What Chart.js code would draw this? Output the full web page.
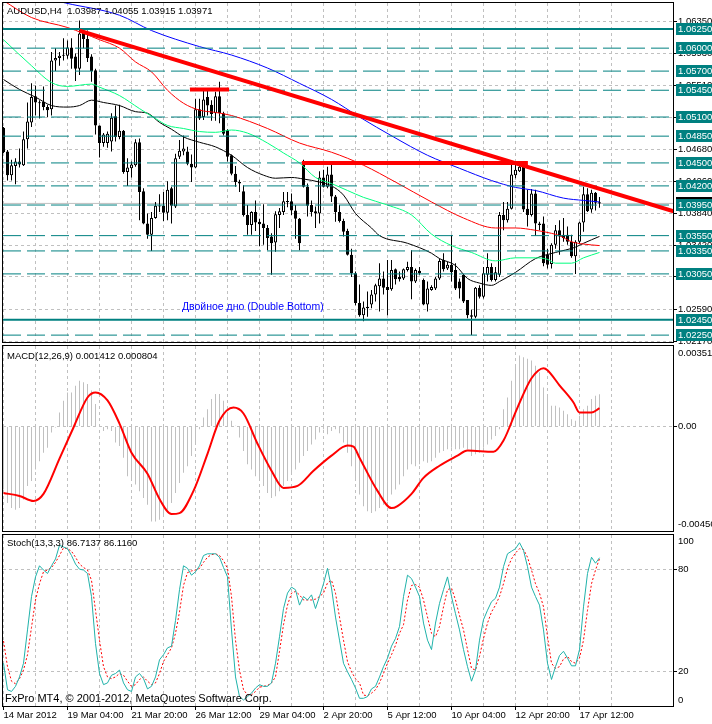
<!DOCTYPE html>
<html>
<head>
<meta charset="utf-8">
<title>AUDUSD,H4</title>
<script src="https://cdn.jsdelivr.net/npm/chart.js@4.4.1/dist/chart.umd.min.js"></script>
<style>
    html, body { margin: 0; padding: 0; background: #fff; }
    #wrap { position: relative; width: 712px; height: 724px; overflow: hidden; background: #fff; }
    #wrap canvas { position: absolute; left: 0; }
    #price-chart { top: 0; }
    #macd-chart { top: 344px; }
    #stoch-chart { top: 532px; }
</style>
</head>
<body>
<div id="wrap">
    <canvas id="price-chart" width="712" height="344"></canvas>
    <canvas id="macd-chart" width="712" height="188"></canvas>
    <canvas id="stoch-chart" width="712" height="192"></canvas>
</div>
<script>
// --- H4 candles, bar 0 = 14 Mar 2012 ---
const opens = [
    1.0496, 1.0465, 1.0434, 1.0446, 1.0452, 1.0447, 1.0481, 1.0503, 1.0537, 1.0529,
    1.0530, 1.0523, 1.0520, 1.0584, 1.0587, 1.0590, 1.0590, 1.0601, 1.0589, 1.0573,
    1.0621, 1.0612, 1.0589, 1.0571, 1.0499, 1.0476, 1.0476, 1.0478, 1.0511, 1.0484,
    1.0492, 1.0438, 1.0443, 1.0447, 1.0477, 1.0413, 1.0371, 1.0356, 1.0378, 1.0394,
    1.0394, 1.0385, 1.0417, 1.0393, 1.0458, 1.0465, 1.0465, 1.0449, 1.0444, 1.0520,
    1.0510, 1.0536, 1.0526, 1.0515, 1.0537, 1.0515, 1.0493, 1.0460, 1.0436, 1.0425,
    1.0413, 1.0382, 1.0369, 1.0386, 1.0373, 1.0371, 1.0365, 1.0354, 1.0346, 1.0382,
    1.0386, 1.0400, 1.0400, 1.0388, 1.0377, 1.0452, 1.0419, 1.0395, 1.0387, 1.0384,
    1.0431, 1.0419, 1.0435, 1.0406, 1.0386, 1.0374, 1.0361, 1.0330, 1.0306, 1.0267,
    1.0251, 1.0260, 1.0265, 1.0278, 1.0289, 1.0299, 1.0288, 1.0285, 1.0311, 1.0301,
    1.0299, 1.0310, 1.0314, 1.0295, 1.0309, 1.0297, 1.0265, 1.0284, 1.0286, 1.0299,
    1.0323, 1.0312, 1.0317, 1.0310, 1.0295, 1.0304, 1.0271, 1.0251, 1.0249, 1.0287,
    1.0275, 1.0304, 1.0314, 1.0297, 1.0304, 1.0382, 1.0375, 1.0390, 1.0434, 1.0439,
    1.0449, 1.0390, 1.0382, 1.0410, 1.0371, 1.0371, 1.0330, 1.0318, 1.0343, 1.0362,
    1.0356, 1.0356, 1.0347, 1.0328, 1.0347, 1.0372, 1.0409, 1.0389, 1.0411, 1.03987
];
const highs = [
    1.0497, 1.0467, 1.0454, 1.0456, 1.0469, 1.0491, 1.0529, 1.0554, 1.0551, 1.0532,
    1.0550, 1.0526, 1.0595, 1.0600, 1.0595, 1.0613, 1.0610, 1.0613, 1.0593, 1.0636,
    1.0626, 1.0623, 1.0592, 1.0573, 1.0499, 1.0489, 1.0491, 1.0515, 1.0525, 1.0526,
    1.0493, 1.0456, 1.0452, 1.0481, 1.0482, 1.0417, 1.0384, 1.0386, 1.0399, 1.0409,
    1.0412, 1.0426, 1.0419, 1.0462, 1.0480, 1.0486, 1.0471, 1.0461, 1.0534, 1.0534,
    1.0544, 1.0545, 1.0532, 1.0543, 1.0556, 1.0517, 1.0494, 1.0461, 1.0446, 1.0428,
    1.0421, 1.0395, 1.0387, 1.0401, 1.0377, 1.0396, 1.0369, 1.0358, 1.0387, 1.0391,
    1.0412, 1.0412, 1.0410, 1.0395, 1.0378, 1.0454, 1.0423, 1.0401, 1.0393, 1.0439,
    1.0441, 1.0445, 1.0452, 1.0408, 1.0395, 1.0377, 1.0364, 1.0338, 1.0308, 1.0291,
    1.0269, 1.0282, 1.0284, 1.0292, 1.0319, 1.0308, 1.0323, 1.0323, 1.0312, 1.0308,
    1.0312, 1.0321, 1.0336, 1.0312, 1.0314, 1.0299, 1.0295, 1.0290, 1.0301, 1.0325,
    1.0332, 1.0321, 1.0356, 1.0319, 1.0299, 1.0304, 1.0271, 1.0258, 1.0288, 1.0290,
    1.0314, 1.0332, 1.0319, 1.0314, 1.0386, 1.0399, 1.0399, 1.0449, 1.0449, 1.0449,
    1.0452, 1.0415, 1.0416, 1.0415, 1.0373, 1.0380, 1.0338, 1.0345, 1.0369, 1.0375,
    1.0378, 1.0367, 1.0356, 1.0349, 1.0373, 1.0419, 1.0417, 1.0415, 1.0412, 1.04055
];
const lows = [
    1.0463, 1.0427, 1.0427, 1.0422, 1.0444, 1.0446, 1.0469, 1.0497, 1.0512, 1.0508,
    1.0519, 1.0510, 1.0512, 1.0570, 1.0577, 1.0584, 1.0586, 1.0573, 1.0557, 1.0565,
    1.0600, 1.0582, 1.0556, 1.0487, 1.0457, 1.0471, 1.0470, 1.0465, 1.0478, 1.0481,
    1.0436, 1.0420, 1.0431, 1.0445, 1.0375, 1.0370, 1.0351, 1.0335, 1.0377, 1.0386,
    1.0374, 1.0375, 1.0371, 1.0391, 1.0455, 1.0460, 1.0447, 1.0425, 1.0443, 1.0506,
    1.0506, 1.0512, 1.0505, 1.0505, 1.0502, 1.0486, 1.0452, 1.0434, 1.0419, 1.0412,
    1.0380, 1.0356, 1.0356, 1.0361, 1.0341, 1.0343, 1.0336, 1.0304, 1.0334, 1.0365,
    1.0382, 1.0392, 1.0382, 1.0351, 1.0336, 1.0418, 1.0380, 1.0380, 1.0365, 1.0371,
    1.0418, 1.0417, 1.0399, 1.0373, 1.0372, 1.0354, 1.0329, 1.0301, 1.0264, 1.0249,
    1.0243, 1.0249, 1.0260, 1.0269, 1.0256, 1.0278, 1.0251, 1.0283, 1.0291, 1.0295,
    1.0297, 1.0308, 1.0272, 1.0293, 1.0304, 1.0264, 1.0256, 1.0283, 1.0284, 1.0297,
    1.0308, 1.0310, 1.0295, 1.0284, 1.0273, 1.0267, 1.0247, 1.0225, 1.0247, 1.0273,
    1.0273, 1.0295, 1.0295, 1.0295, 1.0301, 1.0362, 1.0372, 1.0389, 1.0430, 1.0438,
    1.0386, 1.0367, 1.0380, 1.0355, 1.0362, 1.0315, 1.0312, 1.0312, 1.0338, 1.0330,
    1.0347, 1.0343, 1.0326, 1.0305, 1.0345, 1.0360, 1.0386, 1.0385, 1.0388, 1.03915
];
const closes = [
    1.0464, 1.0434, 1.0447, 1.0452, 1.0448, 1.0481, 1.0504, 1.0536, 1.0529, 1.0528,
    1.0523, 1.0519, 1.0584, 1.0587, 1.0590, 1.0591, 1.0601, 1.0586, 1.0573, 1.0619,
    1.0612, 1.0587, 1.0570, 1.0499, 1.0476, 1.0487, 1.0488, 1.0509, 1.0484, 1.0492,
    1.0438, 1.0444, 1.0448, 1.0477, 1.0412, 1.0371, 1.0356, 1.0378, 1.0394, 1.0393,
    1.0385, 1.0415, 1.0394, 1.0456, 1.0466, 1.0469, 1.0449, 1.0444, 1.0520, 1.0508,
    1.0533, 1.0525, 1.0514, 1.0537, 1.0515, 1.0488, 1.0458, 1.0436, 1.0425, 1.0423,
    1.0382, 1.0369, 1.0386, 1.0372, 1.0370, 1.0365, 1.0352, 1.0345, 1.0383, 1.0387,
    1.0400, 1.0399, 1.0388, 1.0377, 1.0345, 1.0419, 1.0394, 1.0386, 1.0384, 1.0431,
    1.0419, 1.0435, 1.0406, 1.0386, 1.0374, 1.0360, 1.0330, 1.0306, 1.0267, 1.0251,
    1.0261, 1.0262, 1.0278, 1.0290, 1.0299, 1.0287, 1.0284, 1.0310, 1.0298, 1.0298,
    1.0311, 1.0314, 1.0295, 1.0310, 1.0306, 1.0265, 1.0286, 1.0288, 1.0299, 1.0322,
    1.0311, 1.0317, 1.0307, 1.0286, 1.0286, 1.0269, 1.0251, 1.0249, 1.0287, 1.0275,
    1.0306, 1.0314, 1.0297, 1.0307, 1.0382, 1.0375, 1.0390, 1.0435, 1.0441, 1.0445,
    1.0389, 1.0382, 1.0410, 1.0371, 1.0369, 1.0319, 1.0317, 1.0343, 1.0362, 1.0354,
    1.0352, 1.0347, 1.0328, 1.0347, 1.0372, 1.0409, 1.0387, 1.0411, 1.0398, 1.03971
];

// moving averages at sample bars
const maBlueBars = [0, 10, 15.5, 29, 37, 49, 57, 66, 74, 82, 89, 97.5, 106, 114, 122, 128, 133, 140, 145, 149];
const maBlueVals = [1.0678, 1.0666, 1.0659, 1.0643, 1.0623, 1.0602, 1.0591, 1.0574, 1.0554, 1.0533, 1.0510, 1.0484, 1.0460, 1.0443, 1.0427, 1.0418, 1.0414, 1.0404, 1.0401, 1.0399];
const maRedBars = [0, 7, 16, 24, 29, 33, 37, 41, 45, 49, 53, 57, 66, 74, 82, 90, 98, 107, 115, 123, 128, 133, 137, 139, 142, 145, 149];
const maRedVals = [1.0662, 1.0640, 1.0627, 1.0611, 1.0600, 1.0582, 1.0569, 1.0545, 1.0528, 1.0519, 1.0516, 1.0512, 1.0495, 1.0476, 1.0464, 1.0447, 1.0425, 1.0399, 1.0378, 1.0365, 1.0365, 1.0362, 1.0358, 1.0355, 1.0347, 1.0344, 1.0342];
const maGreenBars = [0, 7, 12, 16, 22, 24, 29, 34, 38, 41, 45, 49, 53, 57, 61, 66, 70, 74, 78, 82, 86, 90, 96, 102, 107, 112, 117, 123, 128, 133, 136, 138, 142, 145, 149];
const maGreenVals = [1.0611, 1.0577, 1.0555, 1.0550, 1.0553, 1.0549, 1.0538, 1.0521, 1.0508, 1.0499, 1.0495, 1.0491, 1.0490, 1.0493, 1.0489, 1.0476, 1.0463, 1.0450, 1.0431, 1.0423, 1.0414, 1.0405, 1.0395, 1.0382, 1.0357, 1.0342, 1.0333, 1.0322, 1.0326, 1.0326, 1.0324, 1.0319, 1.0319, 1.0326, 1.0333];
const maBlackBars = [0, 4, 8, 12, 16, 19, 22, 25, 29, 33, 36, 39, 42, 45, 49, 53, 57, 61, 65, 68, 72, 75, 79, 82, 85, 88, 92, 94, 101, 107, 109, 113, 116, 119, 122, 124, 128, 133, 138, 143, 145, 149];
const maBlackVals = [1.0559, 1.0546, 1.0536, 1.0525, 1.0523, 1.0525, 1.0532, 1.0529, 1.0525, 1.0517, 1.0515, 1.0503, 1.0494, 1.0484, 1.0477, 1.0471, 1.0460, 1.0444, 1.0434, 1.0430, 1.0431, 1.0429, 1.0425, 1.0420, 1.0408, 1.0384, 1.0365, 1.0355, 1.0345, 1.0332, 1.0325, 1.0316, 1.0299, 1.0293, 1.0290, 1.0295, 1.0307, 1.0325, 1.0333, 1.0340, 1.0345, 1.0354];

// drawn objects
const levelPrices = [1.0625, 1.0600, 1.0570, 1.0545, 1.0510, 1.0485, 1.0450, 1.0420, 1.0395, 1.0355, 1.0335, 1.0305, 1.0245, 1.0225];
const solidLevels = [1.0625, 1.0245];
const bidPrice = 1.03971;
const trendBars = [19, 168];
const trendVals = [1.0623, 1.0386];
const topSegBars = [46.6, 56.4];
const topSegVals = [1.0546, 1.0546];
const midSegBars = [74.6, 131.1];
const midSegVals = [1.0450, 1.0450];
const noteText = 'Двойное дно (Double Bottom)';
const noteBar = 44.6;
const notePrice = 1.02617;

// axis ticks
const priceTicks = [1.0635, 1.0593, 1.0551, 1.0510, 1.0468, 1.0426, 1.0384, 1.0342, 1.0301, 1.0259, 1.0217];
const macdTicks = [0.003517, 0, -0.00456];
const macdTickLabels = ['0.003517', '0.00', '-0.004560'];
const stochTicks = [100, 80, 20, 0];
const xTickLabels = ['14 Mar 2012', '19 Mar 04:00', '21 Mar 20:00', '26 Mar 12:00', '29 Mar 04:00',
    '2 Apr 20:00', '5 Apr 12:00', '10 Apr 04:00', '12 Apr 20:00', '17 Apr 12:00'];
const gridBars = [0, 8, 16, 24, 32, 40, 48, 56, 64, 72, 80, 88, 96, 104, 112, 120, 128, 136, 144, 152, 160];

// --- MACD(12,26,9) ---
const macdMain = [
    -0.00275, -0.00334, -0.00356, -0.00363, -0.00356, -0.00319, -0.00260, -0.00238, -0.00187, -0.00151,
    -0.00114, -0.00092, -0.00026, -0.00004, 0.00061, 0.00113, 0.00149, 0.00149, 0.00178, 0.00200,
    0.00193, 0.00186, 0.00157, 0.00098, 0.00003, -0.00019, -0.00012, -0.00019, -0.00070, -0.00085,
    -0.00136, -0.00217, -0.00238, -0.00253, -0.00282, -0.00312, -0.00341, -0.00414, -0.00414, -0.00407,
    -0.00392, -0.00363, -0.00334, -0.00290, -0.00246, -0.00202, -0.00173, -0.00129, -0.00070, -0.00012,
    0.00040, 0.00076, 0.00120, 0.00142, 0.00142, 0.00113, 0.00054, 0.00025, 0.00003, -0.00048,
    -0.00107, -0.00165, -0.00187, -0.00217, -0.00238, -0.00260, -0.00290, -0.00312, -0.00304, -0.00282,
    -0.00260, -0.00238, -0.00209, -0.00187, -0.00158, -0.00129, -0.00107, -0.00078, -0.00056, -0.00026,
    -0.00012, -0.00034, -0.00019, -0.00012, -0.00029, -0.00070, -0.00114, -0.00173, -0.00231, -0.00297,
    -0.00348, -0.00370, -0.00377, -0.00370, -0.00356, -0.00341, -0.00326, -0.00297, -0.00275, -0.00253,
    -0.00217, -0.00187, -0.00165, -0.00173, -0.00165, -0.00151, -0.00158, -0.00151, -0.00136, -0.00114,
    -0.00107, -0.00099, -0.00092, -0.00099, -0.00099, -0.00092, -0.00099, -0.00129, -0.00121, -0.00114,
    -0.00092, -0.00078, -0.00056, -0.00041, -0.00012, 0.00076, 0.00127, 0.00200, 0.00266, 0.00310,
    0.00303, 0.00296, 0.00288, 0.00266, 0.00237, 0.00171, 0.00135, 0.00091, 0.00091, 0.00083,
    0.00069, 0.00054, 0.00032, 0.00025, 0.00047, 0.00076, 0.00091, 0.00120, 0.00135, 0.00141
];
const macdSignalBars = [0, 4, 7.5, 10, 14, 17.5, 21, 23, 26, 29, 32, 36, 39, 42, 44, 47.5, 51, 54, 57.5, 60,
    63.5, 67, 70, 73.5, 77.5, 82, 86, 87.5, 89, 93.5, 97, 98.5, 102, 105, 109, 113.5, 116, 122.5, 125, 128.5,
    132, 135, 136, 139, 142.5, 144, 147, 149];
const macdSignal = [-0.00290, -0.00303, -0.00325, -0.00294, -0.00140, -0.00004, 0.00127, 0.00149, 0.00114, 0.00013,
    -0.00114, -0.00206, -0.00316, -0.00382, -0.00378, -0.00281, -0.00119, 0.00026, 0.00083, 0.00057,
    -0.00075, -0.00193, -0.00268, -0.00259, -0.00193, -0.00127, -0.00083, -0.00088, -0.00136, -0.00281,
    -0.00356, -0.00347, -0.00294, -0.00224, -0.00171, -0.00127, -0.00105, -0.00110, -0.00061, 0.00083,
    0.00211, 0.00255, 0.00246, 0.00180, 0.00105, 0.00061, 0.00061, 0.00080];

// --- Stoch(13,3,3) ---
const stochMain = [
    25, 9.5, 8.5, 11.5, 17, 25, 44.5, 64, 75.5, 82,
    79.5, 77.5, 82, 86, 94, 93, 92, 88, 83, 80,
    79.5, 77.5, 64, 36.5, 19, 12.5, 13.5, 18, 19, 21,
    13.5, 9.5, 8.5, 17, 19, 16, 10, 11.5, 17, 27,
    30, 34, 35, 50, 68, 82, 80.5, 76.5, 78.5, 82,
    88, 89, 89, 89, 87, 81, 75.5, 44.5, 17, 5.5,
    3.5, 5.5, 7.5, 10.5, 12.5, 11.5, 11.5, 13.5, 25, 40.5,
    57, 66, 69.5, 68, 59, 64, 62, 65, 57, 64,
    71.5, 80.5, 69, 52, 38.5, 25, 20, 15.5, 10.5, 4.5,
    4.5, 5.5, 10, 11.5, 17, 23, 28, 35, 39.5, 46.5,
    64, 76.5, 74.5, 69.5, 64, 48.5, 38.5, 33, 48.5, 60,
    68, 75.5, 64, 54, 44.5, 33, 23, 14.5, 21, 38.5,
    50.5, 56, 61, 63, 69.5, 81.5, 89, 90.5, 92, 95.5,
    91, 81.5, 69.5, 64, 59, 44.5, 25, 15.5, 23, 29.5,
    32, 28, 23.5, 23.5, 33, 58, 77.5, 87, 83.5, 86.7137
];
const stochSignal = [
    38, 23, 14.5, 13, 16, 21, 30, 46, 62, 71.5,
    78.5, 79.5, 81, 84, 88, 92.5, 92, 90.5, 87, 83,
    81, 79.5, 73.5, 56, 38.5, 23, 17, 16, 17, 19,
    18, 14.5, 11.5, 12.5, 15.5, 17, 14.5, 12.5, 13.5, 19,
    26, 30, 34, 42.5, 55, 70.5, 78, 79, 79.5, 80.5,
    84, 87, 88.5, 89, 88, 85, 80.5, 64, 38.5, 21,
    9.5, 6.5, 6.5, 8.5, 11, 11.5, 12, 13.5, 17, 32,
    47.5, 59, 66, 67, 65, 62, 62, 62, 62.5, 64,
    66, 72, 73.5, 66, 52, 38.5, 26, 20, 16, 13.5,
    6.4, 6, 7.5, 9.5, 13.5, 19, 25, 30, 35.5, 42.5,
    47.5, 62, 70.5, 71, 69.5, 62, 52, 42.5, 40.5, 46.5,
    58, 68, 69, 62, 53, 44.5, 33, 22, 21, 29,
    39.5, 48.5, 55, 59, 64, 71.5, 80.5, 86, 89.5, 92,
    91.5, 87, 79.5, 71.5, 66, 58, 40.5, 25, 22, 23,
    27.5, 29, 26, 25, 28, 38.5, 56, 71.5, 79.5, 86.1160
];

document.addEventListener('DOMContentLoaded', () => {
    const FONT = '"Liberation Sans", Arial, sans-serif';
    const X_MIN = -0.125;
    const X_MAX = 167.375;
    const AXIS_W = 39;
    const GRID = '#c0c0c0';
    const TEAL = '#008080';

    Chart.defaults.font.family = FONT;
    Chart.defaults.font.size = 9.5;
    Chart.defaults.color = '#000';

    const pts = (xs, ys) => xs.map((x, i) => ({ x, y: ys[i] }));
    const perBar = ys => ys.map((y, i) => ({ x: i, y }));

    // --- shared plugins ---
    const panelFrame = {
        id: 'panelFrame',
        afterDatasetsDraw(chart) {
            const { ctx, chartArea: a } = chart;
            ctx.save();
            ctx.strokeStyle = '#000';
            ctx.lineWidth = 1;
            ctx.strokeRect(a.left - 0.5, a.top - 0.5, a.right - a.left + 1, a.bottom - a.top + 1);
            ctx.restore();
        }
    };

    function sideScale(values, labels, inset, boxes) {
        return {
            id: 'sideScale',
            afterDraw(chart) {
                const { ctx, chartArea: a, scales: { y } } = chart;
                ctx.save();
                ctx.font = '9.5px ' + FONT;
                ctx.textBaseline = 'middle';
                ctx.textAlign = 'left';
                ctx.fillStyle = '#000';
                values.forEach((v, k) => {
                    let py = y.getPixelForValue(v);
                    py = Math.min(Math.max(py, a.top + inset), a.bottom - inset);
                    ctx.fillText(labels[k], a.right + 5, py);
                });
                (boxes || []).forEach(b => {
                    const py = Math.round(y.getPixelForValue(b.value));
                    ctx.fillStyle = b.bg;
                    ctx.fillRect(a.right + 3, py - 6, chart.width - a.right - 3, 12);
                    ctx.fillStyle = '#fff';
                    ctx.fillText(b.text, a.right + 5, py);
                });
                ctx.restore();
            }
        };
    }

    function captions(items) {
        return {
            id: 'captions',
            afterDraw(chart) {
                const { ctx } = chart;
                ctx.save();
                ctx.textBaseline = 'middle';
                ctx.textAlign = 'left';
                items.forEach(t => {
                    ctx.font = t.font;
                    ctx.fillStyle = t.color || '#000';
                    ctx.fillText(t.text, t.x, t.y);
                });
                ctx.restore();
            }
        };
    }

    function xAxis(withLabels) {
        return {
            type: 'linear',
            min: X_MIN,
            max: X_MAX,
            offset: false,
            afterBuildTicks: s => { s.ticks = gridBars.map(v => ({ value: v })); },
            afterFit: s => { s.height = withLabels ? 18 : 0; },
            grid: {
                offset: false,
                color: GRID,
                drawTicks: withLabels,
                tickLength: 4,
                tickBorderDash: [],
                tickColor: ctx => (ctx.tick && ctx.tick.value % 16 === 0) ? '#000' : 'rgba(0,0,0,0)'
            },
            border: { display: false, dash: [3, 3] },
            ticks: {
                display: withLabels,
                autoSkip: false,
                maxRotation: 0,
                minRotation: 0,
                align: 'start',
                padding: 0,
                color: '#000',
                font: { family: FONT, size: 9.5 },
                callback: v => (v % 16 === 0 ? xTickLabels[v / 16] : '')
            }
        };
    }

    function yAxis(min, max, gridVals) {
        return {
            type: 'linear',
            position: 'right',
            min,
            max,
            beginAtZero: false,
            afterBuildTicks: s => { s.ticks = gridVals.map(v => ({ value: v })); },
            afterFit: s => { s.width = AXIS_W; },
            ticks: { display: false },
            grid: { color: GRID, tickLength: 4, tickColor: '#000', tickBorderDash: [] },
            border: { display: false, dash: [3, 3] }
        };
    }

    const baseOptions = padding => ({
        responsive: false,
        animation: false,
        devicePixelRatio: 1,
        events: [],
        layout: { padding },
        plugins: { legend: { display: false }, tooltip: { enabled: false } }
    });

    const lineSet = (data, color, width, order, extra) => Object.assign({
        type: 'line',
        data,
        borderColor: color,
        borderWidth: width,
        pointRadius: 0,
        fill: false,
        clip: 0,
        order
    }, extra || {});

    // --- price panel ---
    const levelSets = levelPrices.map(v => {
        const solid = solidLevels.includes(v);
        return lineSet(pts([X_MIN, X_MAX], [v, v]), TEAL, solid ? 2 : 1, 1, { borderDash: solid ? [] : [18, 6] });
    });

    const priceSets = [
        lineSet(pts(trendBars, trendVals), '#ff0000', 4, 0),
        lineSet(pts(topSegBars, topSegVals), '#ff0000', 4, 0),
        lineSet(pts(midSegBars, midSegVals), '#ff0000', 4, 0),
        ...levelSets,
        lineSet(pts(maBlueBars, maBlueVals), '#0000ff', 1, 2, { cubicInterpolationMode: 'monotone' }),
        lineSet(pts(maRedBars, maRedVals), '#ff0000', 1, 2, { cubicInterpolationMode: 'monotone' }),
        lineSet(pts(maGreenBars, maGreenVals), '#00ff7f', 1, 2, { cubicInterpolationMode: 'monotone' }),
        lineSet(pts(maBlackBars, maBlackVals), '#000000', 1, 2, { cubicInterpolationMode: 'monotone' }),
        {
            type: 'bar',
            data: opens.map((o, i) => ({ x: i, y: [o, closes[i]] })),
            backgroundColor: opens.map((o, i) => (closes[i] >= o ? '#ffffff' : '#000000')),
            borderColor: '#000',
            borderWidth: 1,
            borderSkipped: false,
            barThickness: 3,
            minBarLength: 1,
            grouped: false,
            inflateAmount: 0,
            order: 3
        },
        {
            type: 'bar',
            data: lows.map((l, i) => ({ x: i, y: [l, highs[i]] })),
            backgroundColor: '#000',
            borderWidth: 0,
            barThickness: 1,
            grouped: false,
            inflateAmount: 0,
            order: 4
        },
        lineSet(pts([X_MIN, X_MAX], [bidPrice, bidPrice]), GRID, 1, 5)
    ];

    const levelBoxes = [{ value: bidPrice, text: bidPrice.toFixed(5), bg: '#000' }]
        .concat(levelPrices.map(v => ({ value: v, text: v.toFixed(5), bg: TEAL })));

    const notePlugin = {
        id: 'note',
        afterDatasetsDraw(chart) {
            const { ctx, scales: { x, y } } = chart;
            ctx.save();
            ctx.font = '10.5px ' + FONT;
            ctx.fillStyle = '#0000ff';
            ctx.textBaseline = 'middle';
            ctx.fillText(noteText, x.getPixelForValue(noteBar), y.getPixelForValue(notePrice));
            ctx.restore();
        }
    };

    new Chart(document.getElementById('price-chart'), {
        type: 'bar',
        data: { datasets: priceSets },
        options: Object.assign(baseOptions({ left: 3, top: 3, right: 0, bottom: 2 }), {
            scales: { x: xAxis(false), y: yAxis(1.0216, 1.0659, priceTicks) }
        }),
        plugins: [
            panelFrame,
            notePlugin,
            sideScale(priceTicks, priceTicks.map(v => v.toFixed(5)), 0, levelBoxes),
            captions([{ text: 'AUDUSD,H4  1.03987 1.04055 1.03915 1.03971', x: 7, y: 11, font: '9.5px ' + FONT }])
        ]
    });

    // --- MACD panel ---
    new Chart(document.getElementById('macd-chart'), {
        type: 'bar',
        data: {
            datasets: [
                lineSet(pts(macdSignalBars, macdSignal), '#ff0000', 2, 0, { cubicInterpolationMode: 'monotone' }),
                {
                    type: 'bar',
                    data: perBar(macdMain),
                    backgroundColor: GRID,
                    borderWidth: 0,
                    barThickness: 1,
                    grouped: false,
                    inflateAmount: 0,
                    order: 1
                }
            ]
        },
        options: Object.assign(baseOptions({ left: 3, top: 2, right: 0, bottom: 1 }), {
            scales: { x: xAxis(false), y: yAxis(-0.00456, 0.003517, [0]) }
        }),
        plugins: [
            panelFrame,
            sideScale(macdTicks, macdTickLabels, 7),
            captions([{ text: 'MACD(12,26,9) 0.001412 0.000804', x: 7, y: 12, font: '9.5px ' + FONT }])
        ]
    });

    // --- Stochastic panel ---
    new Chart(document.getElementById('stoch-chart'), {
        type: 'line',
        data: {
            datasets: [
                lineSet(perBar(stochMain), '#20b2aa', 1, 0),
                lineSet(perBar(stochSignal), '#ff0000', 1, 1, { borderDash: [2, 2] })
            ]
        },
        options: Object.assign(baseOptions({ left: 3, top: 3, right: 0, bottom: 0 }), {
            scales: { x: xAxis(true), y: yAxis(0, 100, [80, 20]) }
        }),
        plugins: [
            panelFrame,
            sideScale(stochTicks, stochTicks.map(String), 6),
            captions([
                { text: 'Stoch(13,3,3) 86.7137 86.1160', x: 7, y: 11, font: '9.5px ' + FONT },
                { text: 'FxPro MT4, \u00a9 2001-2012, MetaQuotes Software Corp.', x: 5, y: 167, font: '11px ' + FONT }
            ])
        ]
    });
});
</script>
</body>
</html>
